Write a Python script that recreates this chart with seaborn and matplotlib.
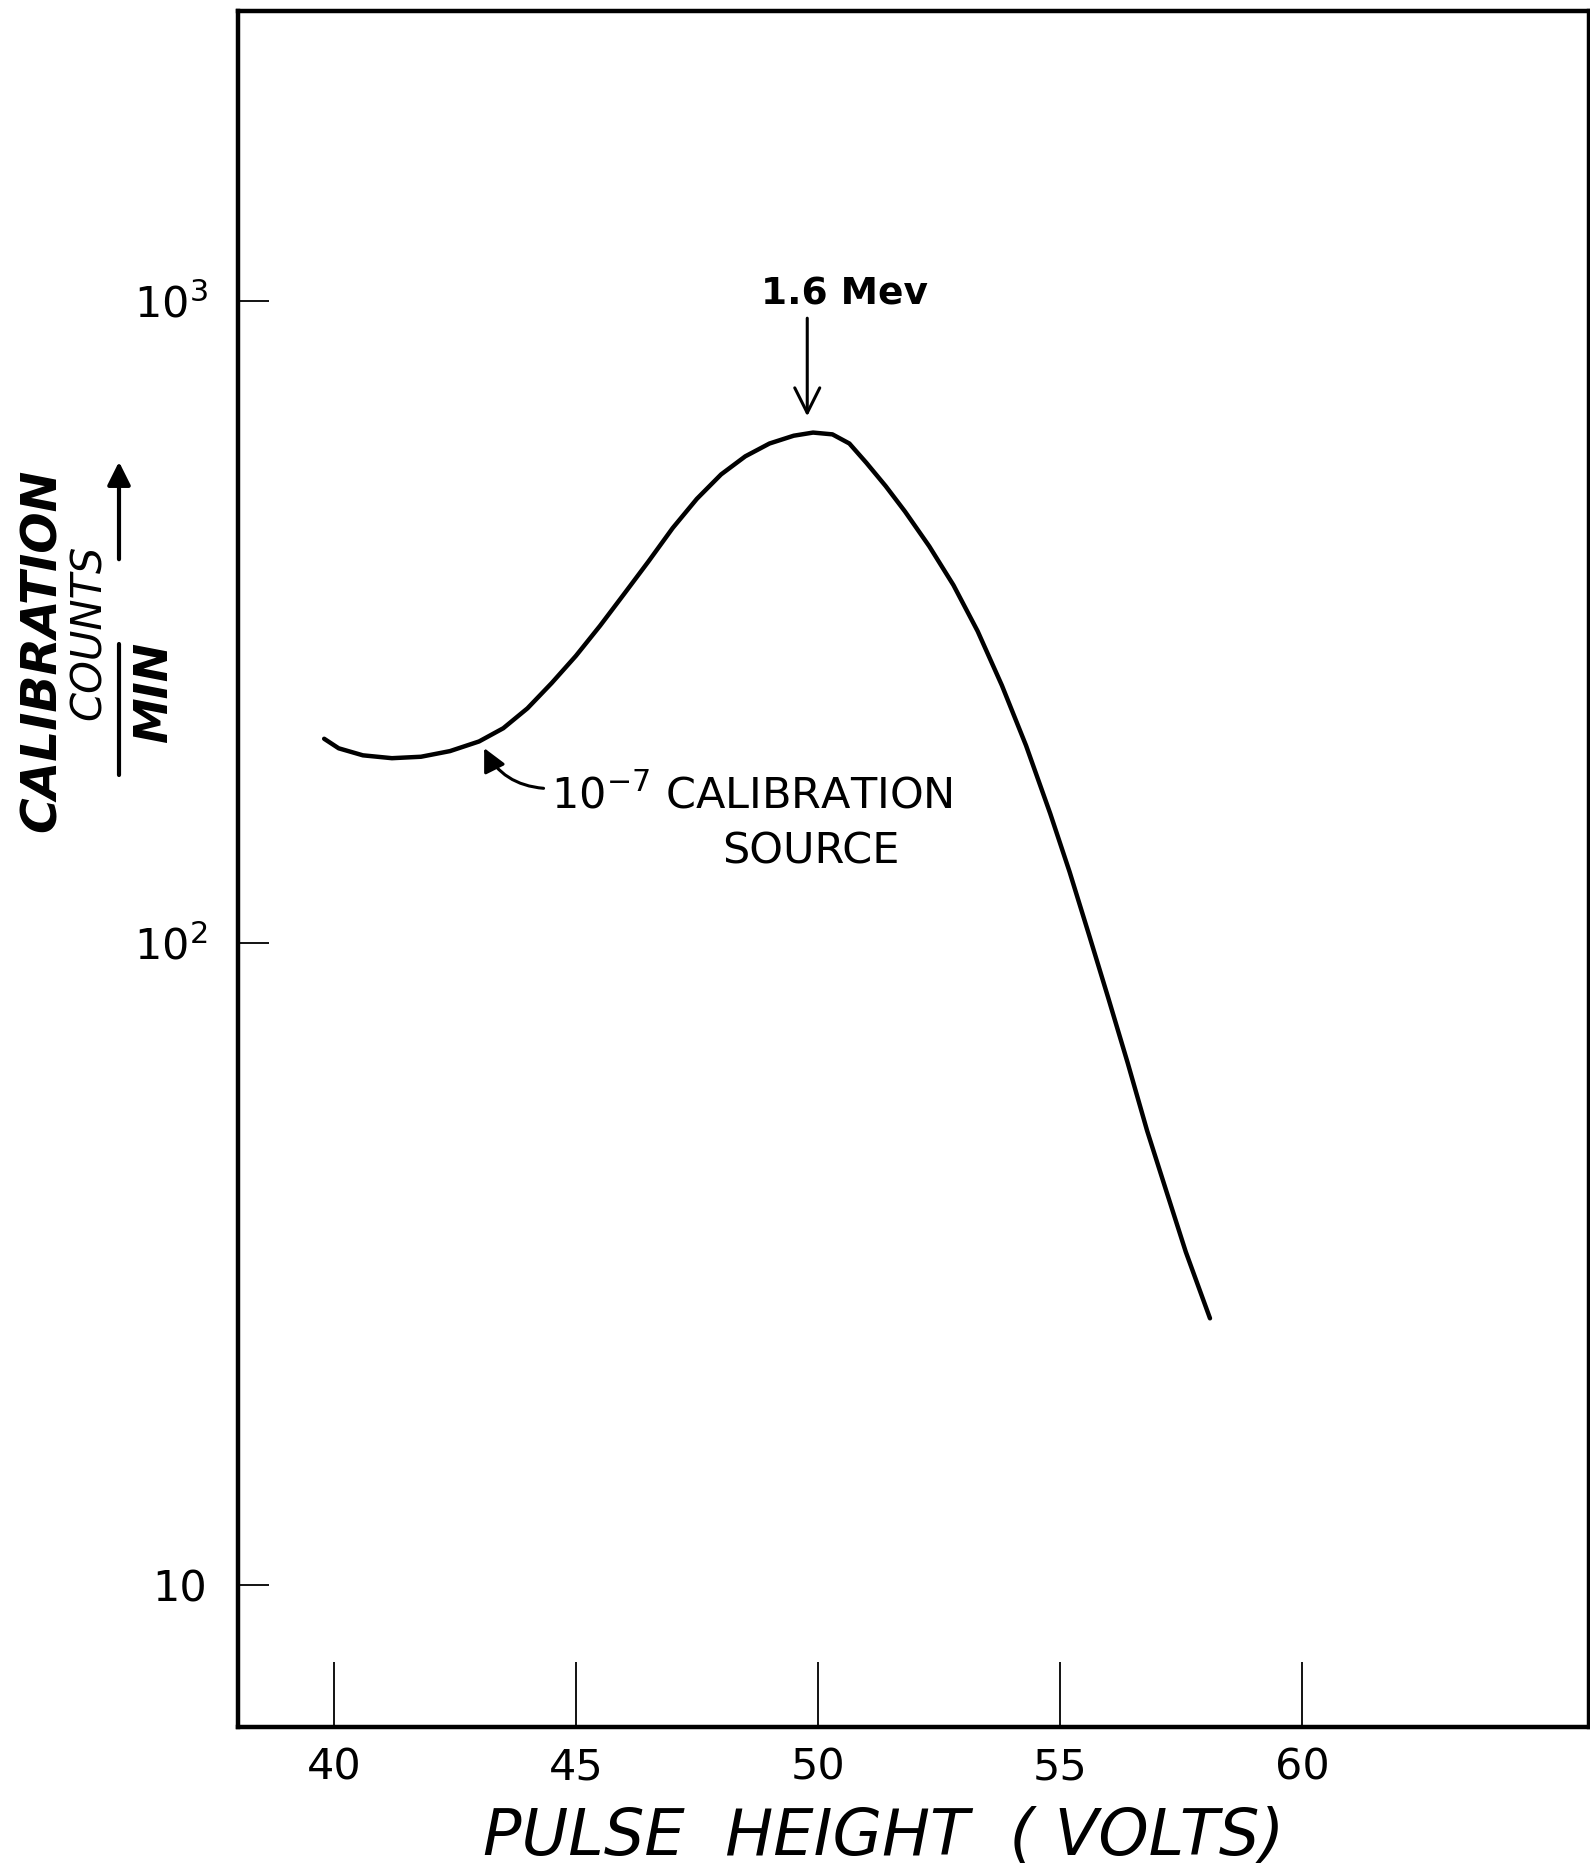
import matplotlib
matplotlib.use('Agg')
import matplotlib.pyplot as plt
from matplotlib.lines import Line2D
from matplotlib.patches import FancyArrowPatch
from matplotlib.ticker import FixedLocator, NullLocator
import pandas as pd
import seaborn as sns

# values
volts = [39.8, 40.1, 40.6, 41.2, 41.8, 42.4, 43.0, 43.5, 44.0, 44.5, 45.0,
         45.5, 46.0, 46.5, 47.0, 47.5, 48.0, 48.5, 49.0, 49.5, 49.9, 50.3,
         50.65, 51.0, 51.4, 51.8, 52.3, 52.8, 53.3, 53.8, 54.3, 54.8, 55.2,
         55.6, 56.0, 56.4, 56.8, 57.2, 57.6, 58.1]
counts = [208, 201, 196, 194, 195, 199, 206, 216, 232, 254, 280,
          312, 350, 393, 443, 492, 537, 573, 600, 617, 624, 620,
          600, 560, 515, 470, 415, 361, 306, 252, 203, 159, 129,
          103, 82, 65, 51, 41, 33, 26]

x_ticks = [40, 45, 50, 55, 60]
y_ticks = [10, 100, 1000]
y_tick_labels = ['10', r'$10^2$', r'$10^3$']

peak_label = '1.6 Mev'
source_label = r'10$^{-7}$ CALIBRATION'
source_label2 = 'SOURCE'

sns.set_theme(style='white')
plt.rcParams['font.family'] = ['DejaVu Sans']
plt.rcParams['mathtext.fontset'] = 'dejavusans'

W, H = 1590, 1869
fig = plt.figure(figsize=(W / 100, H / 100), dpi=100)
ax = fig.add_axes([238 / W, 1 - 1727 / H, (1589 - 238) / W, (1727 - 11) / H])

df = pd.DataFrame({'volts': volts, 'counts': counts})
sns.lineplot(data=df, x='volts', y='counts', sort=False, color='black',
             linewidth=3.2, ax=ax)

ax.set_yscale('log')
ax.set_xlim(38.02, 65.93)
ax.set_ylim(6.0, 2832)

ax.xaxis.set_major_locator(FixedLocator(x_ticks))
ax.set_xticklabels([str(t) for t in x_ticks])
ax.yaxis.set_major_locator(FixedLocator(y_ticks))
ax.yaxis.set_minor_locator(NullLocator())
ax.set_yticklabels(y_tick_labels)

ax.tick_params(axis='x', bottom=True, direction='in', length=47, width=1.3,
               labelsize=31, pad=14, colors='black')
ax.tick_params(axis='y', left=True, direction='in', length=22, width=1.3,
               labelsize=31, pad=22, colors='black')

for sp in ax.spines.values():
    sp.set_visible(True)
    sp.set_color('black')
    sp.set_linewidth(3.2)

ax.set_xlabel('PULSE  HEIGHT  ( VOLTS)', fontsize=46, style='oblique',
              color='black')
ax.xaxis.label.set_va('baseline')
ax.xaxis.set_label_coords((884 - 238) / 1351, -(1855 - 1727) / 1716)
ax.set_ylabel('')

# peak marker
ax.annotate('', xy=(49.78, 655), xytext=(49.78, 950),
            arrowprops=dict(arrowstyle='->', lw=2.2, color='black',
                            mutation_scale=45))
ax.text(50.54, 1025, peak_label, fontsize=27, weight='bold',
        ha='center', va='center', color='black')

# source label with curved arrow
ax.text(44.49, 162, source_label, fontsize=31, ha='left', va='baseline',
        color='black')
ax.text(49.85, 133, source_label2, fontsize=31, ha='center', va='baseline',
        color='black')
ax.annotate('', xy=(43.08, 203), xytext=(44.39, 174),
            arrowprops=dict(arrowstyle='-|>', lw=2.2, color='black',
                            mutation_scale=35,
                            connectionstyle='arc3,rad=-0.3'))

# y axis label built as a fraction: CALIBRATION COUNTS / MIN
fig.text(42 / W, 1 - 650 / H, 'CALIBRATION', rotation=90, fontsize=35,
         weight='bold', style='oblique', ha='center', va='center',
         color='black')
fig.text(89 / W, 1 - 632 / H, 'COUNTS', rotation=90, fontsize=30,
         style='oblique', ha='center', va='center', color='black')
fig.text(155 / W, 1 - 692 / H, 'MIN', rotation=90, fontsize=33,
         weight='bold', style='oblique', ha='center', va='center',
         color='black')
fig.add_artist(Line2D([119 / W, 119 / W], [1 - 644 / H, 1 - 775 / H],
                      transform=fig.transFigure, color='black', lw=3))
fig.add_artist(FancyArrowPatch((119 / W, 1 - 562 / H), (119 / W, 1 - 459 / H),
                               transform=fig.transFigure, arrowstyle='-|>',
                               mutation_scale=35, lw=3, color='black'))

fig.savefig('out.png', dpi=100)
